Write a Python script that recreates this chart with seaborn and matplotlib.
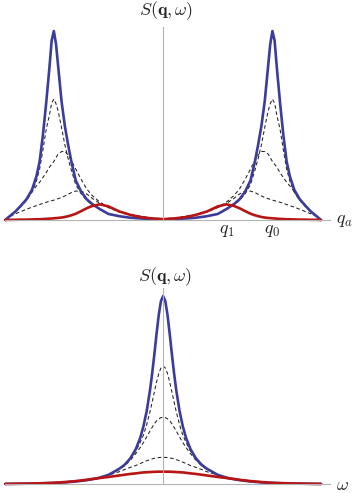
import numpy as np
import pandas as pd
import seaborn as sns
import matplotlib
matplotlib.use("Agg")
import matplotlib.pyplot as plt

# upper panel: S(q, w) against q_a, right half (mirrored to the left)
q_pts = [0, 0.1, 0.2, 0.3, 0.4, 0.5, 0.58, 0.65, 0.7, 0.75, 0.8, 0.84, 0.87, 0.9,
         0.93, 0.96, 0.98, 1.0, 1.02, 1.04, 1.07, 1.1, 1.13, 1.16, 1.2, 1.25, 1.3,
         1.35, 1.4, 1.445]
q_blue = [0.004, 0.005, 0.008, 0.012, 0.02, 0.032, 0.058, 0.085, 0.11, 0.15, 0.21,
          0.31, 0.40, 0.50, 0.63, 0.81, 0.93, 1.0, 0.95, 0.81, 0.62, 0.45, 0.31,
          0.23, 0.16, 0.11, 0.077, 0.046, 0.022, 0.0]
q_dash1 = [0.004, 0.005, 0.008, 0.012, 0.02, 0.031, 0.056, 0.081, 0.104, 0.138, 0.188,
           0.264, 0.326, 0.40, 0.49, 0.575, 0.615, 0.64, 0.619, 0.556, 0.48, 0.37,
           0.27, 0.205, 0.147, 0.104, 0.074, 0.045, 0.022, 0.0]
q_dash2 = [0.005, 0.008, 0.015, 0.026, 0.042, 0.066, 0.095, 0.13, 0.165, 0.215, 0.27,
           0.315, 0.345, 0.363, 0.362, 0.35, 0.33, 0.31, 0.295, 0.28, 0.25, 0.225,
           0.2, 0.18, 0.15, 0.105, 0.072, 0.044, 0.021, 0.0]
q_dash3 = [0.006, 0.011, 0.019, 0.03, 0.045, 0.066, 0.088, 0.115, 0.138, 0.153, 0.153,
           0.145, 0.136, 0.127, 0.119, 0.113, 0.109, 0.105, 0.102, 0.099, 0.094,
           0.088, 0.082, 0.076, 0.068, 0.057, 0.045, 0.033, 0.02, 0.0]
q_red = [0.004, 0.008, 0.015, 0.027, 0.045, 0.072, 0.083, 0.074, 0.062, 0.047, 0.033,
         0.025, 0.02, 0.016, 0.013, 0.011, 0.01, 0.009, 0.008, 0.007, 0.006, 0.005,
         0.004, 0.004, 0.003, 0.002, 0.002, 0.001, 0.001, 0.0]
q_ticks = [0.58, 1.0]
q_ticklabels = [r"$q_1$", r"$q_0$"]

# lower panel: S(q, w) against omega, right half (mirrored)
w_pts = [0, 0.02, 0.04, 0.06, 0.08, 0.1, 0.12, 0.15, 0.18, 0.21, 0.25, 0.3, 0.35,
         0.4, 0.5, 0.6, 0.7, 0.8, 0.9, 1.0, 1.1, 1.2, 1.3, 1.445]
w_blue = [1.0, 0.973, 0.9, 0.8, 0.692, 0.59, 0.5, 0.39, 0.308, 0.246, 0.187, 0.138,
          0.105, 0.083, 0.05, 0.032, 0.022, 0.015, 0.01, 0.007, 0.005, 0.004, 0.003, 0.002]
w_dash1 = [0.628, 0.618, 0.588, 0.543, 0.491, 0.438, 0.386, 0.317, 0.262, 0.222, 0.176,
           0.132, 0.1, 0.079, 0.049, 0.032, 0.022, 0.015, 0.01, 0.007, 0.005, 0.004,
           0.003, 0.002]
w_dash2 = [0.356, 0.354, 0.348, 0.337, 0.322, 0.303, 0.283, 0.252, 0.222, 0.195, 0.163,
           0.128, 0.1, 0.08, 0.05, 0.033, 0.022, 0.015, 0.01, 0.007, 0.005, 0.004,
           0.003, 0.002]
w_dash3 = [0.143, 0.143, 0.142, 0.14, 0.138, 0.135, 0.131, 0.125, 0.118, 0.11, 0.1,
           0.09, 0.079, 0.067, 0.049, 0.033, 0.022, 0.015, 0.01, 0.007, 0.005, 0.004,
           0.003, 0.002]
w_red = [0.067, 0.067, 0.067, 0.067, 0.066, 0.066, 0.065, 0.064, 0.063, 0.061, 0.058,
         0.055, 0.051, 0.047, 0.039, 0.032, 0.024, 0.017, 0.012, 0.008, 0.006, 0.004,
         0.003, 0.002]

curve_order = ["d3", "d2", "d1", "blue", "red"]
palette = {"d3": "#222222", "d2": "#222222", "d1": "#222222", "blue": "#3c3c9c", "red": "#b81414"}
dashes = {"d3": (3.5, 2.5), "d2": (3.5, 2.5), "d1": (3.5, 2.5), "blue": "", "red": ""}
sizes = {"d3": 0.75, "d2": 0.75, "d1": 0.75, "blue": 1.9, "red": 1.9}


def mirror(xs, ys):
    xs = np.asarray(xs, dtype=float)
    ys = np.asarray(ys, dtype=float)
    return np.concatenate([-xs[::-1], xs[1:]]), np.concatenate([ys[::-1], ys[1:]])


def make_frame(xs, curves):
    rows = []
    for name, ys in curves.items():
        fx, fy = mirror(xs, ys)
        rows.append(pd.DataFrame({"x": fx, "S": fy, "curve": name}))
    return pd.concat(rows, ignore_index=True)


top_df = make_frame(q_pts, {"d3": q_dash3, "d2": q_dash2, "d1": q_dash1,
                            "blue": q_blue, "red": q_red})
bot_df = make_frame(w_pts, {"d3": w_dash3, "d2": w_dash2, "d1": w_dash1,
                            "blue": w_blue, "red": w_red})

sns.set_style("white")
plt.rcParams["mathtext.fontset"] = "cm"

fig = plt.figure(figsize=(3.54, 4.93), dpi=100)
ax_top = fig.add_axes([5 / 354, 1 - 220 / 493, 325 / 354, 193.3 / 493])
ax_bot = fig.add_axes([5 / 354, 1 - 484.3 / 493, 325 / 354, 196 / 493])

axis_grey = "#b4b4b4"
for ax, df, ytop in [(ax_top, top_df, 1.023), (ax_bot, bot_df, 1.041)]:
    sns.lineplot(data=df, x="x", y="S", hue="curve", style="curve", size="curve",
                 hue_order=curve_order, style_order=curve_order, size_order=curve_order,
                 palette=palette, dashes=dashes, sizes=sizes, legend=False,
                 estimator=None, sort=False, clip_on=False, ax=ax)
    ax.set_xlim(-1.447, 1.527)
    ax.set_ylim(0, ytop)
    ax.set_xlabel("")
    ax.set_ylabel("")
    ax.set_yticks([])
    for side in ["top", "right"]:
        ax.spines[side].set_visible(False)
    ax.spines["left"].set_position(("data", 0))
    for side in ["left", "bottom"]:
        ax.spines[side].set_color(axis_grey)
        ax.spines[side].set_linewidth(0.8)
    ax.set_facecolor("none")

ax_top.set_xticks(q_ticks)
ax_top.set_xticklabels(q_ticklabels, fontsize=13)
ax_top.tick_params(axis="x", direction="in", length=3, width=0.7, color=axis_grey, pad=1)
ax_bot.set_xticks([])

fig.text(166 / 354, 1 - 11 / 493, r"$S(\mathbf{q},\omega)$", ha="center", va="center", fontsize=13)
fig.text(165 / 354, 1 - 277 / 493, r"$S(\mathbf{q},\omega)$", ha="center", va="center", fontsize=13)
fig.text(336 / 354, 1 - 220 / 493, r"$q_a$", ha="left", va="center", fontsize=13)
fig.text(336 / 354, 1 - 485 / 493, r"$\omega$", ha="left", va="center", fontsize=13)

fig.savefig("out.png", dpi=100)
